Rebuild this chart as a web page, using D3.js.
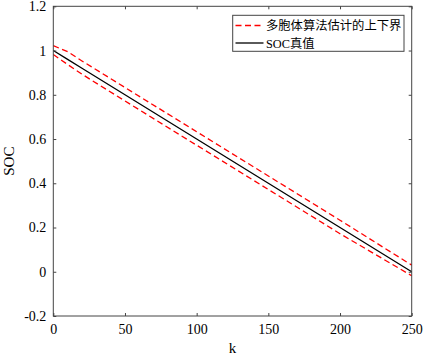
<!DOCTYPE html>
<html><head><meta charset="utf-8">
<script src="https://cdn.jsdelivr.net/npm/d3@7"></script>
<style>body{margin:0;background:#fff}svg{display:block}</style>
</head><body>
<script>
const kValues = [0, 10, 20, 50, 100, 150, 200, 250];
const socTrue = [1.0, 0.96, 0.92, 0.80, 0.60, 0.40, 0.20, 0.0];
const socUpper = [1.022, 0.995, 0.953, 0.833, 0.633, 0.433, 0.233, 0.030];
const socLower = [0.982, 0.937, 0.893, 0.772, 0.572, 0.372, 0.172, -0.018];
const xTicks = [0, 50, 100, 150, 200, 250];
const yTicks = [-0.2, 0, 0.2, 0.4, 0.6, 0.8, 1, 1.2];
const legendLabels = ["多胞体算法估计的上下界", "SOC真值"];
const xLabel = "k", yLabel = "SOC";

const W = 425, H = 361;
const m = {left: 53.3, right: W - 411.7, top: 6.3, bottom: H - 316};
const svg = d3.select("body").append("svg").attr("width", W).attr("height", H);
const x = d3.scaleLinear().domain([0, 250]).range([m.left, W - m.right]);
const y = d3.scaleLinear().domain([-0.2, 1.2]).range([H - m.bottom, m.top]);
const font = "Liberation Serif, Times New Roman, serif";
const cjk = "Liberation Serif, Noto Sans CJK SC, serif";
const axisColor = "#444";

const line = d3.line().x(d => x(d[0])).y(d => y(d[1]));
const g = svg.append("g");
g.append("path").datum(kValues.map((k,i)=>[k, socUpper[i]])).attr("d", line)
  .attr("fill","none").attr("stroke","#ff0000").attr("stroke-width",1.3).attr("stroke-dasharray","6,3.5");
g.append("path").datum(kValues.map((k,i)=>[k, socLower[i]])).attr("d", line)
  .attr("fill","none").attr("stroke","#ff0000").attr("stroke-width",1.3).attr("stroke-dasharray","6,3.5");
g.append("path").datum(kValues.map((k,i)=>[k, socTrue[i]])).attr("d", line)
  .attr("fill","none").attr("stroke","#000").attr("stroke-width",1.3);

function styleAxis(sel){
  sel.attr("font-family", font).attr("font-size", 14);
  sel.select(".domain").remove();
  sel.selectAll("line").attr("stroke", axisColor);
  sel.selectAll("text").style("font-family", font).style("font-size", "14px").attr("fill","#000");
}
svg.append("g").attr("transform",`translate(0,${H-m.bottom})`)
  .call(d3.axisBottom(x).tickValues(xTicks).tickSizeInner(-3).tickSizeOuter(0).tickPadding(8).tickFormat(d3.format("d")))
  .call(styleAxis);
svg.append("g").attr("transform",`translate(0,${m.top})`)
  .call(d3.axisTop(x).tickValues(xTicks).tickSizeInner(-3).tickSizeOuter(0).tickFormat(""))
  .call(styleAxis);
svg.append("g").attr("transform",`translate(${m.left},0)`)
  .call(d3.axisLeft(y).tickValues(yTicks).tickSizeInner(-3).tickSizeOuter(0).tickPadding(7).tickFormat(d => String(+d.toFixed(1))))
  .call(styleAxis);
svg.append("g").attr("transform",`translate(${W-m.right},0)`)
  .call(d3.axisRight(y).tickValues(yTicks).tickSizeInner(-3).tickSizeOuter(0).tickFormat(""))
  .call(styleAxis);
svg.append("rect").attr("x",m.left).attr("y",m.top).attr("width",W-m.left-m.right).attr("height",H-m.top-m.bottom)
  .attr("fill","none").attr("stroke",axisColor).attr("stroke-width",1);

svg.append("text").attr("x",(m.left+W-m.right)/2).attr("y",353).attr("text-anchor","middle")
  .style("font-family",font).style("font-size","15px").text(xLabel);
svg.append("text").attr("transform",`translate(14,${(m.top+H-m.bottom)/2}) rotate(-90)`).attr("text-anchor","middle")
  .style("font-family",font).style("font-size","15px").text(yLabel);

const lg = svg.append("g");
lg.append("rect").attr("x",232.7).attr("y",15.3).attr("width",171.3).attr("height",36)
  .attr("fill","#fff").attr("stroke",axisColor).attr("stroke-width",1);
const items = [{c:"#ff0000", dash:"6,3.5"}, {c:"#000", dash:null}];
items.forEach((it,i)=>{
  const yy = 25.5 + i*17.5;
  const l = lg.append("line").attr("x1",235.5).attr("x2",263.5).attr("y1",yy).attr("y2",yy)
    .attr("stroke",it.c).attr("stroke-width",1.3);
  if (it.dash) l.attr("stroke-dasharray",it.dash);
  lg.append("text").attr("x",266).attr("y",yy+4.5).style("font-family",cjk).style("font-size","12.3px")
    .text(legendLabels[i]);
});
</script>
</body></html>
